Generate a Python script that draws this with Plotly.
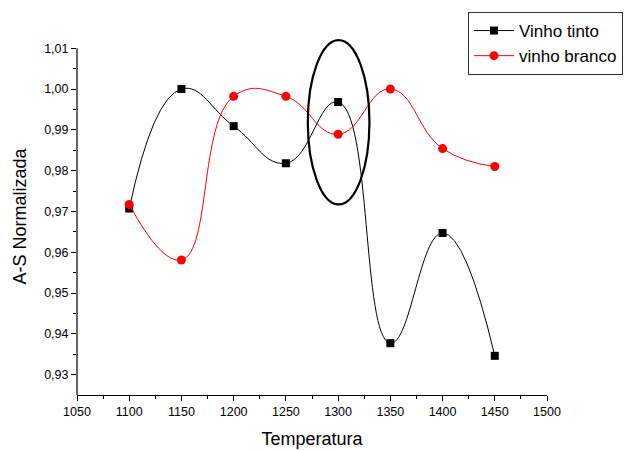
import plotly.graph_objects as go

temperatura = [1100, 1150, 1200, 1250, 1300, 1350, 1400, 1450]
vinho_tinto = [0.9707, 1.0000, 0.9909, 0.9818, 0.9968, 0.9377, 0.9647, 0.9346]
vinho_branco = [0.9717, 0.9581, 0.9982, 0.9982, 0.9889, 1.0000, 0.9854, 0.9810]

x_ticks = [1050, 1100, 1150, 1200, 1250, 1300, 1350, 1400, 1450, 1500]
y_ticks = [0.93, 0.94, 0.95, 0.96, 0.97, 0.98, 0.99, 1.00, 1.01]

font = "Liberation Sans, Arial, sans-serif"

fig = go.Figure()
fig.add_trace(go.Scatter(
    x=temperatura, y=vinho_tinto, name="Vinho tinto", mode="lines+markers",
    line=dict(color="black", width=1, shape="spline", smoothing=1.3),
    marker=dict(symbol="square", size=8, color="black"),
))
fig.add_trace(go.Scatter(
    x=temperatura, y=vinho_branco, name="vinho branco", mode="lines+markers",
    line=dict(color="red", width=1, shape="spline", smoothing=1.3),
    marker=dict(symbol="circle", size=9, color="red"),
))

# highlight ellipse around 1300
fig.add_shape(type="circle", xref="x", yref="y", x0=1271, x1=1330, y0=0.9717, y1=1.012,
              line=dict(color="black", width=2.2))
# left axis line stopping at 1,01
fig.add_shape(type="line", xref="paper", yref="y", x0=0, x1=0, y0=0.925, y1=1.01,
              line=dict(color="black", width=1.2))

fig.update_layout(
    width=626, height=450,
    margin=dict(l=77, r=79, t=38, b=55, autoexpand=False),
    paper_bgcolor="white", plot_bgcolor="white",
    separators=",.",
    font=dict(family=font, color="black"),
    showlegend=True,
    legend=dict(x=623/626, xanchor="right", y=1 - 12/450, yanchor="top",
                yref="container", xref="container",
                bordercolor="#333", borderwidth=1, bgcolor="white",
                font=dict(size=17, family=font), itemwidth=40, tracegroupgap=0),
    xaxis=dict(range=[1050, 1500], tickvals=x_ticks, ticks="outside", ticklen=5,
               tickwidth=1, tickcolor="black", showline=True, linecolor="black",
               linewidth=1.2, showgrid=False, zeroline=False,
               tickfont=dict(size=12.5, family=font),
               minor=dict(dtick=25, tick0=1050, ticks="outside", ticklen=3, tickcolor="black", showgrid=False),
               title=dict(text="Temperatura", font=dict(size=18, family=font), standoff=14)),
    yaxis=dict(range=[0.925, 1.0125], tickvals=y_ticks, tickformat=".2f", ticks="outside",
               ticklen=5, tickwidth=1, tickcolor="black", showline=False,
               showgrid=False, zeroline=False,
               tickfont=dict(size=12.5, family=font),
               minor=dict(tickvals=[0.935, 0.945, 0.955, 0.965, 0.975, 0.985, 0.995, 1.005],
                          ticks="outside", ticklen=3, tickcolor="black", showgrid=False),
               title=dict(text="A-S Normalizada", font=dict(size=18, family=font), standoff=12)),
)

fig.write_html("out.html")
